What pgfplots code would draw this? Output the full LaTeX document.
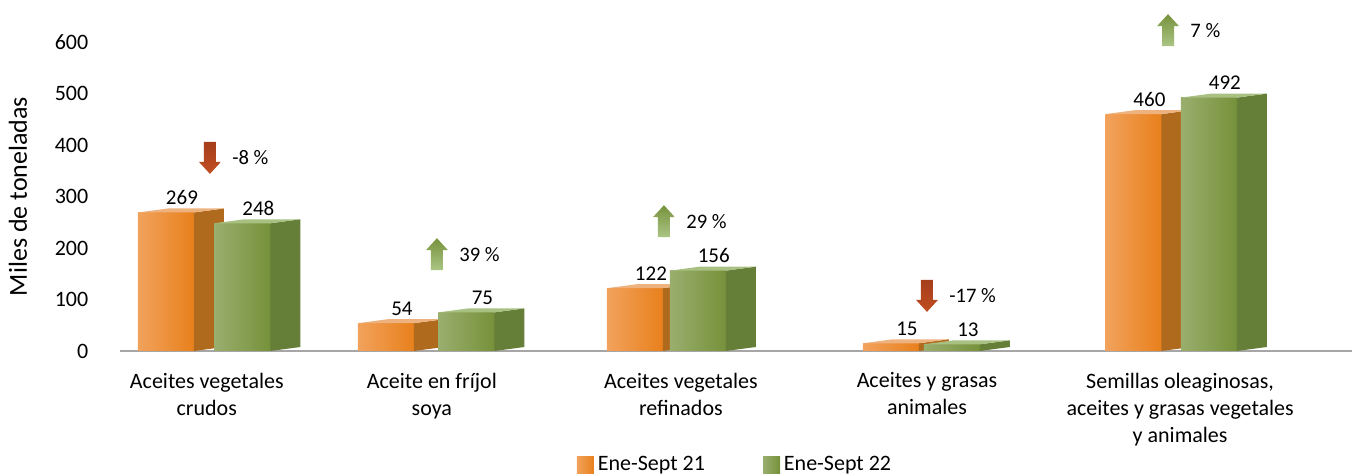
\documentclass[border=0pt]{standalone}
\usepackage{fontspec}
\setmainfont{Carlito}
\usepackage{pgfplots}
\usepackage{pgfplotstable}
\pgfplotsset{compat=1.18}

\definecolor{orL}{HTML}{F2A25C}
\definecolor{orR}{HTML}{E8801C}
\definecolor{orS}{HTML}{B06A1E}
\definecolor{orT}{HTML}{EDB27E}
\definecolor{grL}{HTML}{9AAE6E}
\definecolor{grR}{HTML}{76913A}
\definecolor{grS}{HTML}{667F38}
\definecolor{grT}{HTML}{A8C081}
\definecolor{arrR1}{HTML}{A63E1C}
\definecolor{arrR2}{HTML}{C04E22}
\definecolor{arrG1}{HTML}{76923C}
\definecolor{arrG2}{HTML}{ABC584}

% 3D bar drawn at the data point (front centre, value): front, side, top
\pgfdeclareplotmark{barO}{%
  \pgfmathsetmacro\hh{\yv*\pgfplotsunitylength}%
  \shade[draw=none, left color=orL, right color=orR] (-14pt,0pt) rectangle (14pt,-\hh pt);
  \fill[draw=none, orS] (14pt,0pt) -- (29pt,2pt) -- (29pt,2pt-\hh pt) -- (14pt,-\hh pt) -- cycle;
  \fill[draw=none, orT] (-14pt,0pt) -- (14pt,0pt) -- (29pt,2pt) -- (1pt,2pt) -- cycle;
}
\pgfdeclareplotmark{barG}{%
  \pgfmathsetmacro\hh{\yv*\pgfplotsunitylength}%
  \shade[draw=none, left color=grL, right color=grR] (-14pt,0pt) rectangle (14pt,-\hh pt);
  \fill[draw=none, grS] (14pt,0pt) -- (29pt,2pt) -- (29pt,2pt-\hh pt) -- (14pt,-\hh pt) -- cycle;
  \fill[draw=none, grT] (-14pt,0pt) -- (14pt,0pt) -- (29pt,2pt) -- (1pt,2pt) -- cycle;
}
% block arrows
\pgfdeclareplotmark{arrup}{%
  \shade[draw=none, top color=arrG1, bottom color=arrG2] (-3pt,-8pt) -- (-3pt,2pt) -- (-5.5pt,2pt)
    -- (0pt,8pt) -- (5.5pt,2pt) -- (3pt,2pt) -- (3pt,-8pt) -- cycle;
}
\pgfdeclareplotmark{arrdown}{%
  \shade[draw=none, top color=arrR1, bottom color=arrR2] (-3pt,8pt) -- (-3pt,-2pt) -- (-5.5pt,-2pt)
    -- (0pt,-8pt) -- (5.5pt,-2pt) -- (3pt,-2pt) -- (3pt,8pt) -- cycle;
}

% bar positions follow the perspective of the original 3D chart
\pgfplotstableread{
xo      xg     a21  a22
-0.155  0.161  269  248
0.755   1.088  54   75
1.785   2.045  122  156
2.844   3.096  15   13
3.847   4.159  460  492
}\datos

\pgfplotstableread{
x      y    p
0.027  375  -8
2.993  107  -17
}\bajas

\pgfplotstableread{
x      y    p
0.966  188  39
1.905  252  29
3.990  623  7
}\subidas

\begin{document}
\fontsize{11}{13.5}\selectfont
\begin{tikzpicture}
\begin{axis}[
    name=ax,
    scale only axis,
    width=616pt, height=154.5pt,
    xmin=-0.345, xmax=4.751,
    ymin=0, ymax=600,
    disabledatascaling,
    clip=false,
    axis x line=bottom, axis y line=left,
    axis line style={-},
    x axis line style={draw=black!35, line width=1pt},
    y axis line style={draw=none},
    major tick length=0pt,
    xtick={0.014,0.945,1.975,2.993,4.04},
    xticklabels={{Aceites vegetales\\crudos},{Aceite en fríjol\\soya},
      {Aceites vegetales\\refinados},{Aceites y grasas\\animales},
      {Semillas oleaginosas,\\aceites y grasas vegetales\\y animales}},
    xticklabel style={align=center, yshift=-7pt},
    ytick={0,100,...,600},
    yticklabel style={xshift=-12pt},
    /pgf/number format/assume math mode=true,
    ylabel={Miles de toneladas},
    every axis y label/.style={at={(rel axis cs:0,0.5)}, xshift=-51pt, rotate=90,
      anchor=center, font=\fontsize{13}{15}\selectfont},
    legend columns=2,
    legend style={at={(0.5,-0.369)}, anchor=center, draw=none,
      /tikz/every even column/.append style={column sep=27pt}},
]
\addplot[only marks, mark=barO, visualization depends on={y \as \yv},
  point meta=explicit symbolic, nodes near coords,
  every node near coord/.append style={anchor=base, xshift=8pt, yshift=4pt,
    font=\fontsize{10.5}{12}\selectfont},
  legend image code/.code={\shade[draw=none, left color=orL, right color=orR] (0pt,-4.25pt) rectangle (8.5pt,4.25pt);}]
  table[x=xo, y=a21, meta=a21]{\datos};
\addlegendentry{Ene-Sept 21}
\addplot[only marks, mark=barG, visualization depends on={y \as \yv},
  point meta=explicit symbolic, nodes near coords,
  every node near coord/.append style={anchor=base, xshift=8pt, yshift=4pt,
    font=\fontsize{10.5}{12}\selectfont},
  legend image code/.code={\shade[draw=none, left color=grL, right color=grR] (0pt,-4.25pt) rectangle (8.5pt,4.25pt);}]
  table[x=xg, y=a22, meta=a22]{\datos};
\addlegendentry{Ene-Sept 22}
% variation arrows
\addplot[only marks, mark=arrdown, forget plot, point meta=explicit symbolic,
  nodes near coords={\pgfplotspointmeta~\%},
  every node near coord/.append style={anchor=west, xshift=11pt, inner sep=0pt,
    font=\fontsize{10.3}{12}\selectfont}]
  table[x=x, y=y, meta=p]{\bajas};
\addplot[only marks, mark=arrup, forget plot, point meta=explicit symbolic,
  nodes near coords={\pgfplotspointmeta~\%},
  every node near coord/.append style={anchor=west, xshift=11pt, inner sep=0pt,
    font=\fontsize{10.3}{12}\selectfont}]
  table[x=x, y=y, meta=p]{\subidas};
\end{axis}
\pgfresetboundingbox
\path ([xshift=-60pt,yshift=-62pt]ax.south west) rectangle ([yshift=21pt]ax.north east);
\end{tikzpicture}
\end{document}
